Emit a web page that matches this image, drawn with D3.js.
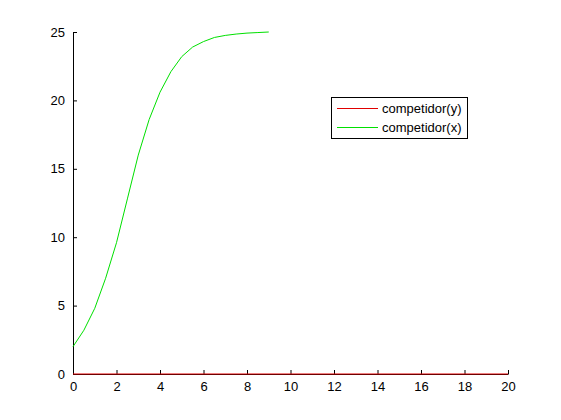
<!DOCTYPE html>
<html>
<head>
<meta charset="utf-8">
<script src="https://cdn.jsdelivr.net/npm/d3@7"></script>
<style>
  body { margin: 0; background: #fff; }
  svg { display: block; font-family: "Liberation Sans", Arial, sans-serif; }
  .axis path, .axis line { stroke: #000; }
  .axis text { font-size: 13px; fill: #000; }
</style>
</head>
<body>
<div id="chart"></div>
<script>
// data
const xValues = [0, 0.5, 1, 1.5, 2, 2.5, 3, 3.5, 4, 4.5, 5, 5.5, 6, 6.5, 7, 7.5, 8, 8.5, 9];
const competidorX = [2.0, 3.2, 4.8, 7.0, 9.6, 12.8, 16.0, 18.6, 20.6, 22.1, 23.2, 23.9, 24.3, 24.6, 24.75, 24.85, 24.92, 24.96, 25.0];
const yLineX = [0, 20];
const competidorY = [0, 0];
const xTicks = [0, 2, 4, 6, 8, 10, 12, 14, 16, 18, 20];
const yTicks = [0, 5, 10, 15, 20, 25];
const seriesNames = ["competidor(y)", "competidor(x)"];
const seriesColors = ["#e00000", "#00e000"];

const width = 561, height = 420;
const margin = { top: 32, right: 53, bottom: 46, left: 73 };
const innerWidth = width - margin.left - margin.right;
const innerHeight = height - margin.top - margin.bottom;

const svg = d3.select("#chart")
  .append("svg")
  .attr("width", width)
  .attr("height", height);

const inner = svg.append("g")
  .attr("transform", `translate(${margin.left}, ${margin.top})`);

const xScale = d3.scaleLinear().domain([0, 20]).range([0, innerWidth]);
const yScale = d3.scaleLinear().domain([0, 25]).range([innerHeight, 0]);

// axes, ticks pointing inward like MATLAB
const bottomAxis = d3.axisBottom(xScale)
  .tickValues(xTicks)
  .tickSizeInner(-4)
  .tickSizeOuter(0)
  .tickPadding(8);
inner.append("g")
  .attr("class", "axis")
  .attr("transform", `translate(0, ${innerHeight})`)
  .call(bottomAxis);

const leftAxis = d3.axisLeft(yScale)
  .tickValues(yTicks)
  .tickSizeInner(-4)
  .tickSizeOuter(0)
  .tickPadding(8);
inner.append("g")
  .attr("class", "axis")
  .call(leftAxis);

const line = d3.line()
  .x(d => xScale(d[0]))
  .y(d => yScale(d[1]));

inner.append("path")
  .datum(yLineX.map((x, i) => [x, competidorY[i]]))
  .attr("d", line)
  .attr("fill", "none")
  .attr("stroke", seriesColors[0])
  .attr("stroke-width", 1);

inner.append("path")
  .datum(xValues.map((x, i) => [x, competidorX[i]]))
  .attr("d", line)
  .attr("fill", "none")
  .attr("stroke", seriesColors[1])
  .attr("stroke-width", 1);

// legend
const legend = svg.append("g")
  .attr("transform", "translate(331, 97)");

legend.append("rect")
  .attr("x", 0.5)
  .attr("y", 0.5)
  .attr("width", 136)
  .attr("height", 41)
  .attr("fill", "#fff")
  .attr("stroke", "#000");

seriesNames.forEach((name, i) => {
  const y = 11 + i * 19;
  legend.append("line")
    .attr("x1", 6).attr("x2", 47)
    .attr("y1", y + 0.5).attr("y2", y + 0.5)
    .attr("stroke", seriesColors[i]);
  legend.append("text")
    .attr("x", 51)
    .attr("y", y + 4.5)
    .attr("font-size", 13)
    .text(name);
});
</script>
</body>
</html>
